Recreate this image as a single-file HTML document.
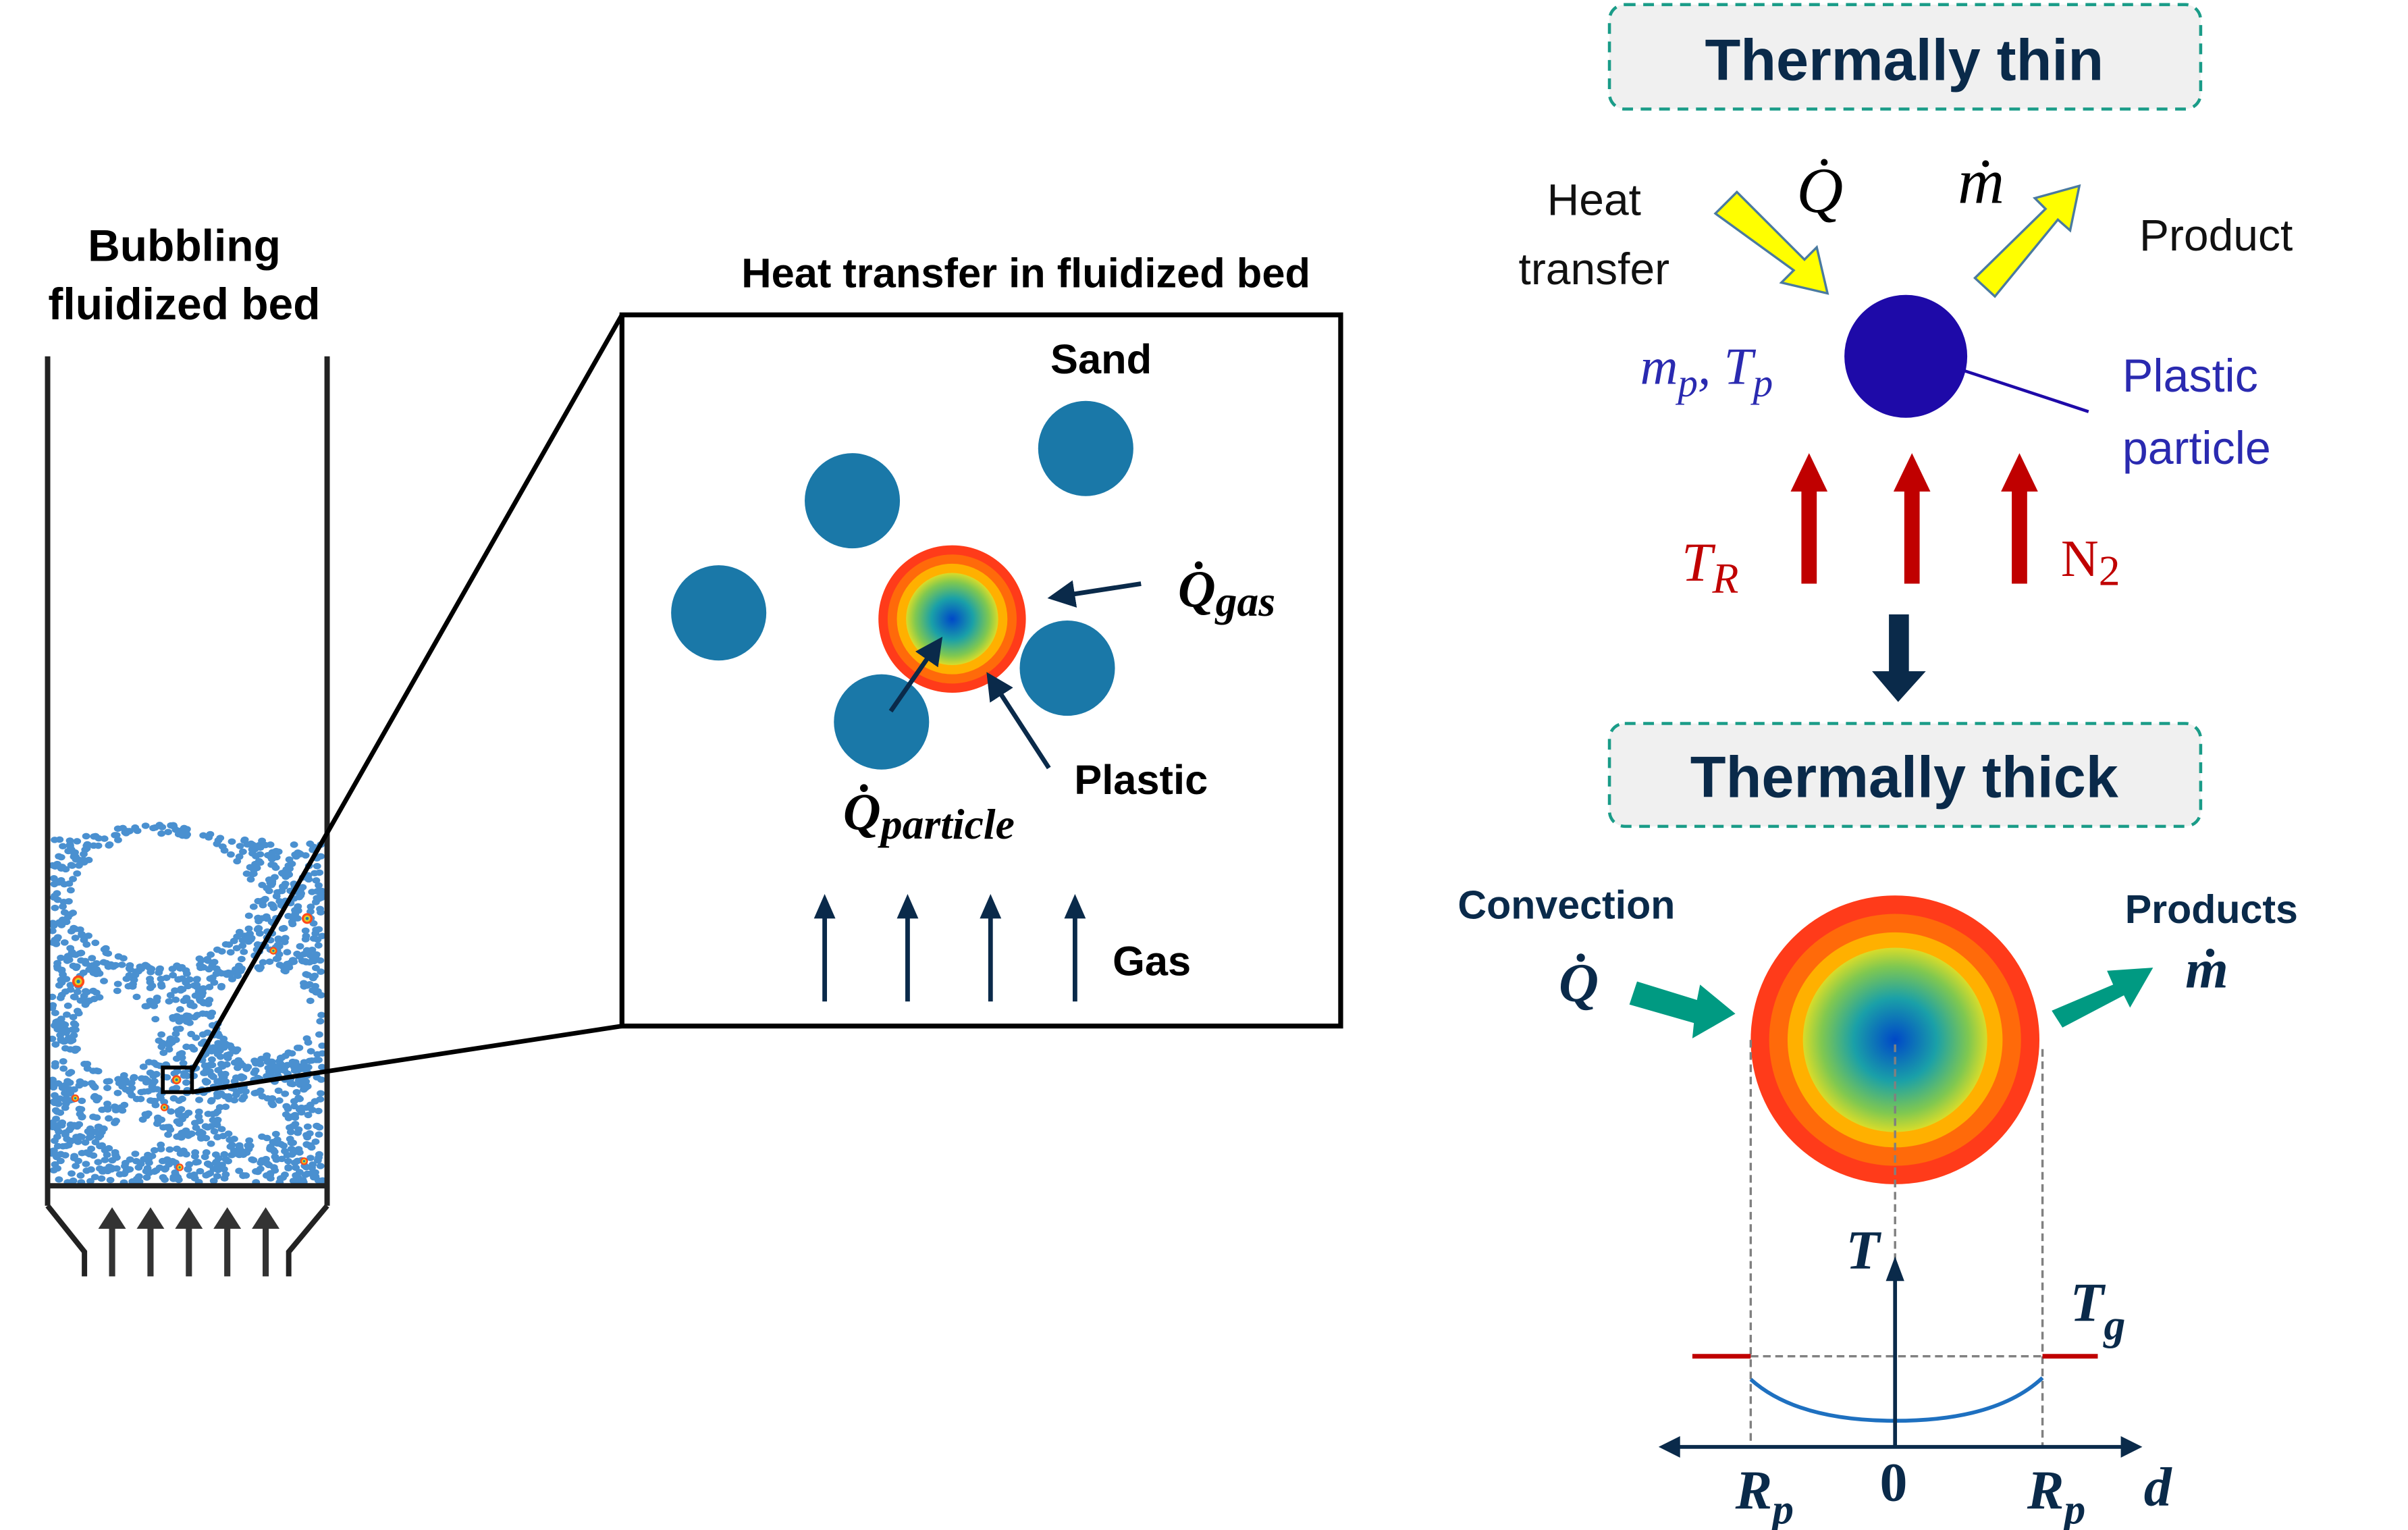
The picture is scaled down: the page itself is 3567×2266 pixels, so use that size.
<!DOCTYPE html>
<html><head><meta charset="utf-8"><style>
html,body{margin:0;padding:0;background:#fff;}
svg{display:block;}
.b{font-family:"Liberation Sans",sans-serif;font-weight:bold;}
.m{font-family:"Liberation Serif",serif;font-style:italic;font-weight:bold;}
.r{font-family:"Liberation Sans",sans-serif;}
</style></head><body>
<svg id="s" width="3567" height="2266" viewBox="0 0 1568 996.1" xmlns="http://www.w3.org/2000/svg">
<defs>
<radialGradient id="core"><stop offset="0" stop-color="#0048c8"/><stop offset="0.45" stop-color="#1aa0a8"/><stop offset="0.8" stop-color="#80c850"/><stop offset="1" stop-color="#d8dc2a"/></radialGradient>
<marker id="ah" markerWidth="6" markerHeight="6" refX="5" refY="3" orient="auto" markerUnits="strokeWidth"><path d="M0,0 L6,3 L0,6 z" fill="#0a2a4a"/></marker>
</defs>
<!-- Left column -->
<text class="b" x="120" y="170" font-size="29" text-anchor="middle">Bubbling</text>
<text class="b" x="120" y="208" font-size="29" text-anchor="middle">fluidized bed</text>
<g id="bed"></g>
<g stroke="#222" stroke-width="3.5" fill="none">
<line x1="31" y1="232" x2="31" y2="785"/><line x1="213" y1="232" x2="213" y2="785"/>
<line x1="31" y1="772" x2="213" y2="772"/>
<polyline points="31,785 55,815 55,831"/><polyline points="213,785 188,815 188,831"/>
</g>
<g stroke="#333" stroke-width="4">
<line x1="73" y1="831" x2="73" y2="796"/><line x1="98" y1="831" x2="98" y2="796"/><line x1="123" y1="831" x2="123" y2="796"/><line x1="148" y1="831" x2="148" y2="796"/><line x1="173" y1="831" x2="173" y2="796"/>
</g>
<g fill="#333"><path d="M64,800 L73,786 L82,800z"/><path d="M89,800 L98,786 L107,800z"/><path d="M114,800 L123,786 L132,800z"/><path d="M139,800 L148,786 L157,800z"/><path d="M164,800 L173,786 L182,800z"/></g>
<rect x="106" y="695" width="19" height="16" fill="none" stroke="#000" stroke-width="2.5"/>
<line x1="125" y1="697" x2="405" y2="205" stroke="#000" stroke-width="3"/>
<line x1="125" y1="711" x2="405" y2="668" stroke="#000" stroke-width="3"/>
<!-- Middle box -->
<text class="b" x="668" y="187" font-size="27" text-anchor="middle">Heat transfer in fluidized bed</text>
<rect x="405" y="205" width="468" height="463" fill="none" stroke="#000" stroke-width="3.2"/>
<text class="b" x="717" y="243" font-size="27" text-anchor="middle">Sand</text>
<g fill="#1a78a8"><circle cx="707" cy="292" r="31"/><circle cx="555" cy="326" r="31"/><circle cx="468" cy="399" r="31"/><circle cx="695" cy="435" r="31"/><circle cx="574" cy="470" r="31"/></g>
<g><circle cx="620" cy="403" r="48" fill="#ff3b1a"/><circle cx="620" cy="403" r="42" fill="#ff6a0a"/><circle cx="620" cy="403" r="36" fill="#ffb000"/><circle cx="620" cy="403" r="30" fill="url(#core)"/></g>
<g stroke="#0a2a4a" stroke-width="3" fill="none">
<line x1="743" y1="380" x2="685" y2="389" marker-end="url(#ah)"/>
<line x1="580" y1="463" x2="612" y2="417" marker-end="url(#ah)"/>
<line x1="683" y1="500" x2="644" y2="440" marker-end="url(#ah)"/>
</g>
<text class="m" x="767" y="395" font-size="34">Q̇<tspan font-size="28" dy="6">gas</tspan></text>
<text class="b" x="743" y="517" font-size="27" text-anchor="middle">Plastic</text>
<text class="m" x="549" y="540" font-size="34">Q̇<tspan font-size="28" dy="6">particle</tspan></text>
<g stroke="#0a2a4a" stroke-width="3"><line x1="537" y1="652" x2="537" y2="595"/><line x1="591" y1="652" x2="591" y2="595"/><line x1="645" y1="652" x2="645" y2="595"/><line x1="700" y1="652" x2="700" y2="595"/></g>
<g fill="#0a2a4a"><path d="M530,598 L537,582 L544,598z"/><path d="M584,598 L591,582 L598,598z"/><path d="M638,598 L645,582 L652,598z"/><path d="M693,598 L700,582 L707,598z"/></g>
<text class="b" x="750" y="635" font-size="27" text-anchor="middle">Gas</text>
<!-- Right top -->
<rect x="1048" y="3" width="385" height="68" rx="10" fill="#f0f0f0" stroke="#1a9c88" stroke-width="2" stroke-dasharray="7,5"/>
<text class="b" x="1240" y="52" font-size="38" fill="#0a2a4a" text-anchor="middle">Thermally thin</text>
<text class="r" x="1038" y="140" font-size="29" text-anchor="middle" fill="#111">Heat</text>
<text class="r" x="1038" y="185" font-size="29" text-anchor="middle" fill="#111">transfer</text>
<text class="m" x="1185" y="138" font-size="42" text-anchor="middle" style="font-weight:normal">Q̇</text>
<text class="m" x="1290" y="132" font-size="42" text-anchor="middle" style="font-weight:normal">ṁ</text>
<path d="M1117,139 L1131,125 L1175,169 L1183,161 L1190,191 L1160,184 L1168,176 Z" fill="#ffff00" stroke="#4a7aa0" stroke-width="1.5"/>
<path d="M1286,181 L1299,193 L1340,143 L1348,150 L1354,121 L1325,129 L1332,136 Z" fill="#ffff00" stroke="#4a7aa0" stroke-width="1.5"/>
<text class="r" x="1443" y="163" font-size="29" text-anchor="middle" fill="#111">Product</text>
<circle cx="1241" cy="232" r="40" fill="#1e0aa8"/>
<line x1="1278" y1="241" x2="1360" y2="268" stroke="#1e0aa8" stroke-width="2"/>
<text class="r" x="1382" y="255" font-size="30" fill="#2a2ab0">Plastic</text>
<text class="r" x="1382" y="302" font-size="30" fill="#2a2ab0">particle</text>
<text class="m" x="1068" y="250" font-size="34" fill="#2a2ab0" style="font-weight:normal">m<tspan font-size="26" dy="8">p</tspan><tspan dy="-8">, T</tspan><tspan font-size="26" dy="8">p</tspan></text>
<g fill="#c00000">
<rect x="1173" y="317" width="10" height="63"/><path d="M1166,320 L1178,295 L1190,320z"/>
<rect x="1240" y="317" width="10" height="63"/><path d="M1233,320 L1245,295 L1257,320z"/>
<rect x="1310" y="317" width="10" height="63"/><path d="M1303,320 L1315,295 L1327,320z"/>
</g>
<text class="m" x="1095" y="378" font-size="36" fill="#c00000" style="font-weight:normal">T<tspan font-size="28" dy="8">R</tspan></text>
<text x="1342" y="375" font-size="34" fill="#c00000" font-family="Liberation Serif,serif">N<tspan font-size="28" dy="6">2</tspan></text>
<rect x="1230" y="400" width="13" height="40" fill="#0a2a4a"/><path d="M1219,437 L1254,437 L1236,457z" fill="#0a2a4a"/>
<rect x="1048" y="471" width="385" height="67" rx="10" fill="#f0f0f0" stroke="#1a9c88" stroke-width="2" stroke-dasharray="7,5"/>
<text class="b" x="1240" y="519" font-size="38" fill="#0a2a4a" text-anchor="middle">Thermally thick</text>
<!-- Right bottom -->
<text class="b" x="1020" y="598" font-size="26" fill="#0a2a4a" text-anchor="middle">Convection</text>
<text class="m" x="1028" y="652" font-size="36" fill="#0a2a4a" text-anchor="middle">Q̇</text>
<path d="M1066,639 L1105,651 L1107,641 L1130,660 L1102,676 L1103,666 L1061,654 Z" fill="#009a82"/>
<text class="b" x="1440" y="601" font-size="26" fill="#0a2a4a" text-anchor="middle">Products</text>
<text class="m" x="1437" y="643" font-size="36" fill="#0a2a4a" text-anchor="middle">ṁ</text>
<path d="M1336,658 L1376,641 L1372,632 L1402,630 L1387,656 L1383,648 L1343,669 Z" fill="#009a82"/>
<g><circle cx="1234" cy="677" r="94" fill="#ff3b1a"/><circle cx="1234" cy="677" r="82" fill="#ff6a0a"/><circle cx="1234" cy="677" r="70" fill="#ffb000"/><circle cx="1234" cy="677" r="60" fill="url(#core)"/></g>
<g stroke="#808080" stroke-width="1.5" stroke-dasharray="5,3" fill="none">
<line x1="1140" y1="677" x2="1140" y2="942"/><line x1="1330" y1="683" x2="1330" y2="942"/><line x1="1234" y1="680" x2="1234" y2="822"/>
<line x1="1140" y1="883" x2="1330" y2="883"/>
</g>
<g stroke="#c00000" stroke-width="3"><line x1="1102" y1="883" x2="1140" y2="883"/><line x1="1330" y1="883" x2="1366" y2="883"/></g>
<path d="M1140,898 Q1170,925 1234,925 Q1300,925 1330,897" fill="none" stroke="#1e70c0" stroke-width="2.5"/>
<line x1="1234" y1="942" x2="1234" y2="830" stroke="#0a2a4a" stroke-width="2.5"/>
<path d="M1228,834 L1234,818 L1240,834z" fill="#0a2a4a"/>
<line x1="1090" y1="942" x2="1385" y2="942" stroke="#0a2a4a" stroke-width="2.5"/>
<path d="M1080,942 L1094,935 L1094,949z" fill="#0a2a4a"/><path d="M1395,942 L1381,935 L1381,949z" fill="#0a2a4a"/>
<text class="m" x="1213" y="826" font-size="36" fill="#0a2a4a" text-anchor="middle">T</text>
<text class="m" x="1348" y="860" font-size="36" fill="#0a2a4a">T<tspan font-size="28" dy="12">g</tspan></text>
<text class="m" x="1130" y="982" font-size="36" fill="#0a2a4a">R<tspan font-size="28" dy="10">p</tspan></text>
<text class="m" x="1233" y="977" font-size="36" fill="#0a2a4a" text-anchor="middle" style="font-style:normal">0</text>
<text class="m" x="1320" y="982" font-size="36" fill="#0a2a4a">R<tspan font-size="28" dy="10">p</tspan></text>
<text class="m" x="1405" y="980" font-size="36" fill="#0a2a4a" text-anchor="middle">d</text>
</svg>
<script>
(function(){
var g=document.getElementById('bed');
var seed=7;function rnd(){seed=(seed*16807)%2147483647;return seed/2147483647;}
var bub=[[106,585,58,42],[172,659,31,28],[76,674,27,26],[87,740,20,11],[162,729,20,12]];
function topY(x){return 548-12*Math.exp(-Math.pow((x-100)/45,2));}
var s='';
for(var i=0;i<2300;i++){
 var x=34+rnd()*176,y=532+rnd()*238;
 if(y<topY(x))continue;
 var ok=true;
 for(var j=0;j<bub.length;j++){var b=bub[j];var d=Math.pow((x-b[0])/b[2],2)+Math.pow((y-b[1])/b[3],2);
  if(d<1){ok=false;break;}}
 if(!ok)continue;
 s+='<ellipse cx="'+x.toFixed(1)+'" cy="'+y.toFixed(1)+'" rx="2.6" ry="2.1" fill="#4a90d0"/>';
}
var pl=[[51,639,4],[200,598,3.5],[178,619,2.5],[49,715,2.5],[107,721,2.5],[117,760,2.5],[198,756,2.5],[115,703,3]];
pl.forEach(function(p){s+='<circle cx="'+p[0]+'" cy="'+p[1]+'" r="'+p[2]+'" fill="#ff4a1a"/><circle cx="'+p[0]+'" cy="'+p[1]+'" r="'+(p[2]*0.6)+'" fill="#e0d020"/><circle cx="'+p[0]+'" cy="'+p[1]+'" r="'+(p[2]*0.3)+'" fill="#1a80b0"/>';});
g.innerHTML=s;
})();
</script>
</body></html>
